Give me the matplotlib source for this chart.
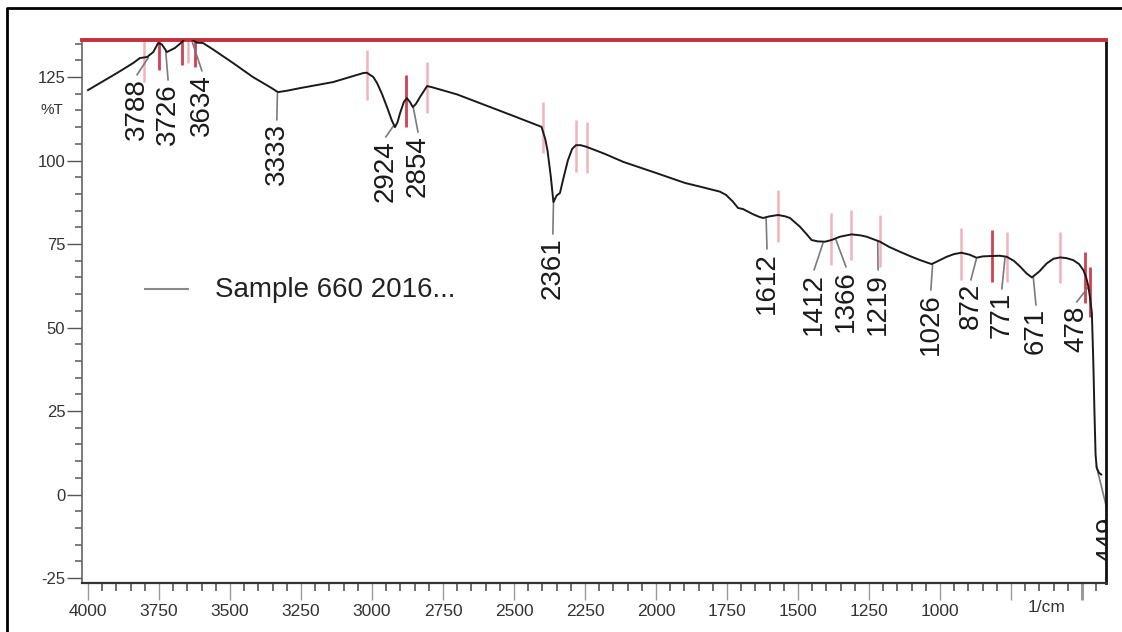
import numpy as np
import matplotlib
matplotlib.use("Agg")
import matplotlib.pyplot as plt
from matplotlib.ticker import MultipleLocator
from matplotlib.lines import Line2D

plt.rcParams['font.family'] = ['Liberation Sans', 'DejaVu Sans']

# ------------------------------------------------------------------ #
# Spectrum trace (wavenumber 1/cm, %T)          #
# ------------------------------------------------------------------ #
wavenumber = [4000, 3958, 3898, 3841, 3817, 3792, 3770, 3753, 3740, 3722,
              3694, 3669, 3650, 3630, 3616, 3595, 3560, 3489, 3419, 3359,
              3331, 3300, 3253, 3137, 3031, 3018, 2995, 2982, 2965, 2947,
              2930, 2919, 2910, 2901, 2888, 2877, 2866, 2856, 2845, 2831,
              2806, 2790, 2700, 2620, 2500, 2403, 2390, 2382, 2370, 2361,
              2350, 2338, 2325, 2310, 2295, 2282, 2265, 2244, 2180, 2115,
              2000, 1898, 1845, 1775, 1753, 1729, 1711, 1694, 1660, 1638,
              1623, 1600, 1570, 1545, 1528, 1493, 1470, 1452, 1430, 1405,
              1382, 1352, 1311, 1280, 1258, 1230, 1211, 1180, 1141, 1100,
              1070, 1050, 1029, 1000, 976, 950, 924, 895, 871, 850,
              824, 790, 765, 740, 717, 695, 676, 650, 624, 600,
              577, 555, 531, 510, 495, 485, 477, 470, 465, 460,
              456, 452, 448, 440, 432]
transmittance = [121.1, 123.2, 126.2, 129.2, 130.7, 131.0, 132.5, 135.2, 134.8, 132.5,
                 133.7, 135.5, 137.5, 136.0, 135.3, 135.2, 133.3, 129.2, 125.0, 122.0,
                 120.5, 120.9, 121.7, 123.5, 126.2, 126.3, 125.0, 123.2, 120.0, 116.0,
                 112.0, 110.0, 111.5, 114.2, 117.5, 118.7, 117.5, 116.0, 117.0, 119.0,
                 122.3, 122.0, 119.8, 117.2, 113.3, 110.1, 106.5, 103.1, 95.0, 87.5,
                 89.5, 90.3, 95.0, 100.1, 103.5, 104.6, 104.6, 104.1, 102.0, 99.6,
                 96.3, 93.3, 92.2, 90.7, 89.7, 87.7, 85.8, 85.5, 84.0, 83.2,
                 82.8, 83.3, 83.7, 83.3, 82.8, 80.2, 78.0, 76.2, 75.8, 75.7,
                 76.2, 77.2, 77.9, 77.6, 77.2, 76.3, 75.7, 74.2, 72.7, 71.2,
                 70.2, 69.6, 69.0, 70.2, 71.2, 72.0, 72.4, 71.8, 70.9, 71.3,
                 71.4, 71.5, 71.2, 70.0, 68.2, 66.2, 65.0, 66.8, 69.2, 70.6,
                 71.0, 70.8, 70.2, 69.0, 67.2, 65.0, 62.2, 58.0, 54.3, 40.0,
                 25.0, 12.0, 8.0, 6.5, 6.0]

# peak labels: text, text x position, text top (%T)
peak_text = ["3788", "3726", "3634", "3333", "2924", "2854", "2361", "1612",
             "1412", "1366", "1219", "1026", "872", "771", "671", "478", "449"]
peak_pos = [3788, 3726, 3634, 3333, 2924, 2854, 2361, 1612,
            1412, 1366, 1219, 1026, 872, 771, 671, 478, 449]
label_x = [3827, 3718, 3599, 3335, 2951, 2838, 2363, 1609,
           1443, 1331, 1218, 1032, 891, 782, 662, 518, 408]
label_top = [124.7, 123.2, 125.9, 111.2, 106.1, 107.6, 77.1, 72.6,
             66.3, 67.2, 66.3, 60.3, 63.3, 60.6, 55.8, 56.7, -6.7]

# red peak-marker bars: wavenumber, low, high (%T)
bar_pos = [3803, 3750, 3669, 3648, 3623, 3018, 2880, 2806, 2398, 2282, 2243,
           1570, 1384, 1313, 1211, 926, 817, 764, 577, 489, 472]
bar_low = [123.5, 127.0, 128.5, 129.2, 128.0, 118.1, 110.0, 114.2, 102.2, 96.6, 96.3,
           75.6, 68.7, 70.2, 68.1, 64.2, 63.6, 63.6, 63.3, 57.3, 53.1]
bar_high = [138, 138, 138, 138, 138, 133.1, 125.6, 129.5, 117.5, 112.1, 111.5,
            91.2, 84.3, 85.2, 83.7, 79.8, 79.2, 78.6, 78.6, 72.6, 68.1]

x_major = [4000, 3750, 3500, 3250, 3000, 2750, 2500, 2250, 2000, 1750, 1500,
           1250, 1000, 750, 500]
x_labels = ["4000", "3750", "3500", "3250", "3000", "2750", "2500", "2250",
            "2000", "1750", "1500", "1250", "1000", "", ""]
y_major = [-25, 0, 25, 50, 75, 100, 125]
y_labels = ["-25", "0", "25", "50", "75", "100", "125"]

legend_text = "Sample 660 2016..."

# ------------------------------------------------------------------ #
# Figure                                                             #
# ------------------------------------------------------------------ #
fig = plt.figure(figsize=(11.22, 6.32), dpi=100)
ax = fig.add_axes([0.0731, 0.0775, 0.9127, 0.8592])

ink = "#1a1a1a"
ax.plot(wavenumber, transmittance, color=ink, lw=1.4, zorder=3)

bar_dark = [False, True, True, False, True, False, True, False, False, False, False,
            False, False, False, False, False, True, False, False, True, True]
for w, lo, hi, dark in zip(bar_pos, bar_low, bar_high, bar_dark):
    ax.vlines(w, lo, hi, color="#c8202f" if dark else "#e8808c",
              lw=2.0 if dark else 1.8, alpha=0.85 if dark else 0.6, zorder=2)

w_arr = np.array(wavenumber[::-1], dtype=float)
t_arr = np.array(transmittance[::-1], dtype=float)
for txt, pk, lx, lt in zip(peak_text, peak_pos, label_x, label_top):
    yc = np.interp(pk, w_arr, t_arr)
    ax.plot([pk, lx], [yc - 0.5, lt + 1.0], color="#7a7a7a", lw=1.2, zorder=2)
    ax.text(lx, lt, txt, rotation=90, ha="center", va="top",
            fontsize=20, color=ink, zorder=4, clip_on=True)

ax.set_xlim(4021, 415)
ax.set_ylim(-26.5, 136.1)

ax.set_xticks(x_major)
ax.set_xticklabels(x_labels)
ax.set_yticks(y_major)
ax.set_yticklabels(y_labels)
ax.xaxis.set_minor_locator(MultipleLocator(50))
ax.yaxis.set_minor_locator(MultipleLocator(5))

ax.tick_params(axis="x", which="major", direction="out", length=12, width=1.0,
               color="#9a9a9a", labelsize=12.5, labelcolor="#333333", pad=3)
ax.tick_params(axis="x", which="minor", direction="out", length=6, width=1.2,
               color="#555555")
ax.tick_params(axis="y", which="major", direction="out", length=11, width=1.0,
               color="#555555", labelsize=12, labelcolor="#333333", pad=1)
ax.tick_params(axis="y", which="minor", direction="out", length=5, width=1.2,
               color="#666666")
t500 = ax.xaxis.get_major_ticks()[-1]
t500.tick1line.set_color("#333333")
t500.tick1line.set_markeredgewidth(2.2)

ax.spines["top"].set_color("#c4303c")
ax.spines["top"].set_linewidth(2.8)
ax.spines["right"].set_color("#111111")
ax.spines["right"].set_linewidth(2.0)
ax.spines["left"].set_color("#666666")
ax.spines["left"].set_linewidth(1.2)
ax.spines["bottom"].set_color("#333333")
ax.spines["bottom"].set_linewidth(1.6)

ax.text(625, -31.6, "1/cm", ha="center", va="top", fontsize=12.5, color="#333333",
        clip_on=False)
fig.text(0.0463, 0.826, "%T", ha="center", va="center", fontsize=11, color="#333333")

# legend drawn by hand where the original puts it
ax.plot([0.0615, 0.1035], [0.5414, 0.5414], transform=ax.transAxes,
        color="#8a8a8a", lw=1.5)
ax.text(0.1299, 0.540, legend_text, transform=ax.transAxes, ha="left",
        va="center", fontsize=20, color="#222222")

# outer frame of the screenshot
fig.add_artist(Line2D([0.0062, 0.0062, 1.0], [0.0, 0.9873, 0.9873],
                      transform=fig.transFigure, color="black", lw=2.0))

fig.savefig("out.png", dpi=100)
